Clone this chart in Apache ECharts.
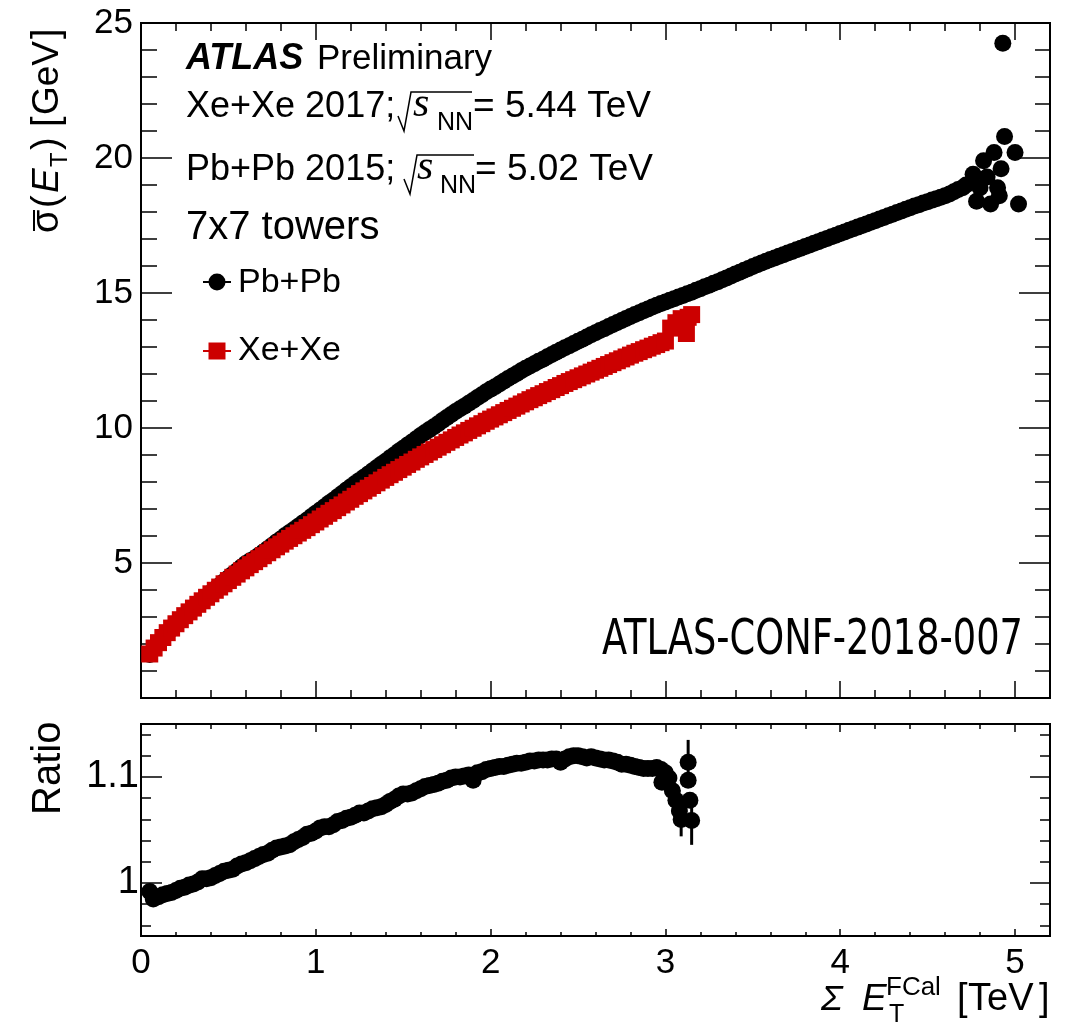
<!DOCTYPE html>
<html><head><meta charset="utf-8">
<script src="https://cdn.jsdelivr.net/npm/echarts@6/dist/echarts.min.js"></script>
<style>html,body{margin:0;padding:0;background:#fff}#c{width:1077px;height:1025px}</style>
</head><body><div id="c"></div>
<script>
// ---------------- data ----------------
// Pb+Pb 2015 : [Sum ET FCal (TeV), sigma(ET) (GeV)]
const pbData = [
 [0.05,1.61],[0.075,1.83],[0.1,2.02],[0.125,2.21],[0.15,2.39],[0.175,2.56],[0.2,2.73],[0.225,2.89],[0.25,3.04],[0.275,3.19],
 [0.3,3.34],[0.325,3.48],[0.35,3.62],[0.375,3.76],[0.4,3.9],[0.425,4.04],[0.45,4.17],[0.475,4.31],[0.5,4.44],[0.525,4.58],
 [0.55,4.71],[0.575,4.85],[0.6,4.98],[0.625,5.08],[0.65,5.17],[0.675,5.29],[0.7,5.41],[0.725,5.53],[0.75,5.65],[0.775,5.78],
 [0.8,5.89],[0.825,6.02],[0.85,6.13],[0.875,6.24],[0.9,6.36],[0.925,6.48],[0.95,6.59],[0.975,6.72],[1.0,6.84],[1.025,6.96],
 [1.05,7.08],[1.075,7.21],[1.1,7.32],[1.125,7.45],[1.15,7.57],[1.175,7.7],[1.2,7.82],[1.225,7.94],[1.25,8.06],[1.275,8.18],
 [1.3,8.3],[1.325,8.42],[1.35,8.54],[1.375,8.66],[1.4,8.77],[1.425,8.9],[1.45,9.01],[1.475,9.14],[1.5,9.25],[1.525,9.37],
 [1.55,9.48],[1.575,9.6],[1.6,9.72],[1.625,9.83],[1.65,9.94],[1.675,10.05],[1.7,10.16],[1.725,10.28],[1.75,10.39],[1.775,10.5],
 [1.8,10.61],[1.825,10.71],[1.85,10.81],[1.875,10.92],[1.9,11.02],[1.925,11.13],[1.95,11.23],[1.975,11.34],[2.0,11.44],[2.025,11.53],
 [2.05,11.63],[2.075,11.73],[2.1,11.83],[2.125,11.93],[2.15,12.02],[2.175,12.12],[2.2,12.21],[2.225,12.3],[2.25,12.38],[2.275,12.47],
 [2.3,12.55],[2.325,12.64],[2.35,12.72],[2.375,12.81],[2.4,12.89],[2.425,12.97],[2.45,13.05],[2.475,13.13],[2.5,13.21],[2.525,13.29],
 [2.55,13.37],[2.575,13.45],[2.6,13.53],[2.625,13.61],[2.65,13.68],[2.675,13.76],[2.7,13.83],[2.725,13.91],[2.75,13.98],[2.775,14.06],
 [2.8,14.13],[2.825,14.2],[2.85,14.27],[2.875,14.34],[2.9,14.41],[2.925,14.48],[2.95,14.55],[2.975,14.61],[3.0,14.67],[3.025,14.73],
 [3.05,14.79],[3.075,14.85],[3.1,14.91],[3.125,14.97],[3.15,15.03],[3.175,15.1],[3.2,15.16],[3.225,15.23],[3.25,15.29],[3.275,15.36],
 [3.3,15.42],[3.325,15.49],[3.35,15.56],[3.375,15.63],[3.4,15.7],[3.425,15.77],[3.45,15.84],[3.475,15.91],[3.5,15.98],[3.525,16.05],
 [3.55,16.11],[3.575,16.18],[3.6,16.24],[3.625,16.3],[3.65,16.36],[3.675,16.42],[3.7,16.48],[3.725,16.54],[3.75,16.6],[3.775,16.66],
 [3.8,16.72],[3.825,16.78],[3.85,16.84],[3.875,16.9],[3.9,16.96],[3.925,17.02],[3.95,17.08],[3.975,17.14],[4.0,17.2],[4.025,17.26],
 [4.05,17.32],[4.075,17.38],[4.1,17.44],[4.125,17.5],[4.15,17.56],[4.175,17.62],[4.2,17.68],[4.225,17.74],[4.25,17.8],[4.275,17.86],
 [4.3,17.92],[4.325,17.98],[4.35,18.04],[4.375,18.1],[4.4,18.16],[4.425,18.22],[4.45,18.27],[4.475,18.33],[4.5,18.38],[4.525,18.44],
 [4.55,18.49],[4.575,18.55],[4.6,18.6],[4.625,18.67],[4.65,18.75],[4.675,18.83],[4.7,18.9],
 [4.72,19.0],[4.76,19.4],[4.78,18.4],[4.8,18.9],[4.82,19.9],[4.84,19.3],[4.86,18.3],[4.88,20.2],[4.9,18.9],[4.91,18.6],
 [4.92,19.6],[4.93,24.25],[4.94,20.8],[5.0,20.2],[5.02,18.3]
];
// Xe+Xe 2017
const xeData = [
 [0.05,1.63],[0.075,1.85],[0.1,2.05],[0.125,2.24],[0.15,2.42],[0.175,2.59],[0.2,2.75],[0.225,2.9],[0.25,3.05],[0.275,3.19],
 [0.3,3.33],[0.325,3.47],[0.35,3.6],[0.375,3.73],[0.4,3.86],[0.425,3.99],[0.45,4.11],[0.475,4.23],[0.5,4.35],[0.525,4.47],
 [0.55,4.59],[0.575,4.71],[0.6,4.82],[0.625,4.94],[0.65,5.05],[0.675,5.16],[0.7,5.27],[0.725,5.38],[0.75,5.49],[0.775,5.6],
 [0.8,5.7],[0.825,5.81],[0.85,5.91],[0.875,6.01],[0.9,6.11],[0.925,6.21],[0.95,6.31],[0.975,6.42],[1.0,6.52],[1.025,6.63],
 [1.05,6.73],[1.075,6.84],[1.1,6.94],[1.125,7.05],[1.15,7.15],[1.175,7.26],[1.2,7.36],[1.225,7.47],[1.25,7.57],[1.275,7.67],
 [1.3,7.77],[1.325,7.87],[1.35,7.97],[1.375,8.07],[1.4,8.17],[1.425,8.27],[1.45,8.36],[1.475,8.46],[1.5,8.55],[1.525,8.65],
 [1.55,8.74],[1.575,8.84],[1.6,8.93],[1.625,9.02],[1.65,9.11],[1.675,9.2],[1.7,9.29],[1.725,9.38],[1.75,9.47],[1.775,9.56],
 [1.8,9.65],[1.825,9.74],[1.85,9.82],[1.875,9.91],[1.9,9.99],[1.925,10.08],[1.95,10.16],[1.975,10.25],[2.0,10.33],[2.025,10.41],
 [2.05,10.49],[2.075,10.57],[2.1,10.65],[2.125,10.73],[2.15,10.81],[2.175,10.89],[2.2,10.97],[2.225,11.05],[2.25,11.12],[2.275,11.2],
 [2.3,11.27],[2.325,11.35],[2.35,11.42],[2.375,11.5],[2.4,11.57],[2.425,11.65],[2.45,11.72],[2.475,11.79],[2.5,11.86],[2.525,11.93],
 [2.55,12.0],[2.575,12.07],[2.6,12.14],[2.625,12.21],[2.65,12.28],[2.675,12.35],[2.7,12.42],[2.725,12.49],[2.75,12.56],[2.775,12.63],
 [2.8,12.7],[2.825,12.77],[2.85,12.83],[2.875,12.9],[2.9,12.96],[2.925,13.03],[2.95,13.09],[2.975,13.16],[3.0,13.22],
 [3.03,13.7],[3.06,13.9],[3.09,14.05],[3.12,13.5],[3.13,14.1],[3.15,14.2]
];
// Ratio Pb+Pb / Xe+Xe
const ratioData = [
 [0.05,0.992],[0.07,0.985],[0.075,0.986],[0.1,0.987],[0.125,0.989],[0.15,0.99],[0.175,0.991],[0.2,0.993],[0.225,0.995],[0.25,0.996],
 [0.275,0.998],[0.3,0.999],[0.325,1.001],[0.35,1.004],[0.375,1.004],[0.4,1.005],[0.425,1.007],[0.45,1.009],[0.475,1.011],[0.5,1.012],
 [0.525,1.013],[0.55,1.016],[0.575,1.018],[0.6,1.019],[0.625,1.021],[0.65,1.023],[0.675,1.025],[0.7,1.027],[0.725,1.028],[0.75,1.031],
 [0.775,1.033],[0.8,1.034],[0.825,1.035],[0.85,1.036],[0.875,1.039],[0.9,1.041],[0.925,1.043],[0.95,1.046],[0.975,1.047],[1.0,1.049],
 [1.025,1.052],[1.05,1.053],[1.075,1.053],[1.1,1.055],[1.125,1.058],[1.15,1.059],[1.175,1.061],[1.2,1.062],[1.225,1.064],[1.25,1.066],
 [1.275,1.066],[1.3,1.068],[1.325,1.07],[1.35,1.071],[1.375,1.072],[1.4,1.074],[1.425,1.077],[1.45,1.079],[1.475,1.082],[1.5,1.084],
 [1.525,1.084],[1.55,1.085],[1.575,1.087],[1.6,1.089],[1.625,1.091],[1.65,1.092],[1.675,1.093],[1.7,1.094],[1.725,1.096],[1.75,1.097],
 [1.775,1.099],[1.8,1.1],[1.825,1.1],[1.85,1.101],[1.875,1.102],[1.9,1.097],[1.925,1.104],[1.95,1.105],[1.975,1.107],[2.0,1.108],
 [2.025,1.109],[2.05,1.11],[2.075,1.11],[2.1,1.111],[2.125,1.112],[2.15,1.113],[2.175,1.113],[2.2,1.114],[2.225,1.115],[2.25,1.115],
 [2.275,1.116],[2.3,1.116],[2.325,1.116],[2.35,1.117],[2.375,1.117],[2.4,1.114],[2.425,1.117],[2.45,1.119],[2.475,1.12],[2.5,1.12],
 [2.525,1.119],[2.55,1.118],[2.575,1.119],[2.6,1.118],[2.625,1.117],[2.65,1.116],[2.675,1.116],[2.7,1.115],[2.725,1.114],[2.75,1.112],
 [2.775,1.112],[2.8,1.111],[2.825,1.11],[2.85,1.109],[2.875,1.108],[2.9,1.108],[2.925,1.108],[2.95,1.109],[2.975,1.107],[3.0,1.104],
 [2.98,1.095],[3.02,1.099],[3.04,1.087],[3.06,1.078],[3.08,1.068],[3.09,1.06],[3.13,1.114],[3.13,1.097],[3.14,1.078],[3.15,1.059]
];
// ratio error bars [x, low, high]
const ratioErr = [[3.09,1.044,1.075],[3.13,1.095,1.135],[3.15,1.036,1.08]];

// tick positions / labels
const xMajor = [0,1,2,3,4,5];
const xMinor = [0.2,0.4,0.6,0.8,1.2,1.4,1.6,1.8,2.2,2.4,2.6,2.8,3.2,3.4,3.6,3.8,4.2,4.4,4.6,4.8];
const yMajor = [0,5,10,15,20,25];
const yLabels = [5,10,15,20,25];
const yMinor = [1,2,3,4,6,7,8,9,11,12,13,14,16,17,18,19,21,22,23,24];
const rMajor = [1.0,1.1];
const rMinor = [0.96,0.98,1.02,1.04,1.06,1.08,1.12,1.14];

// ---------------- helpers ----------------
const FF = '"Liberation Sans", Arial, Helvetica, sans-serif';
const tickStyle = {color:'#000', width:1.5};
function mkAxis(grid, pos, min, max, vals, len, label, labelVals){
  return {type:'value', gridIndex:grid, position:pos, min:min, max:max, silent:true,
    axisLine:{show:false,onZero:false}, splitLine:{show:false}, minorTick:{show:false},
    axisTick:{show:true, inside:true, length:len, customValues:vals, lineStyle:tickStyle},
    axisLabel: label ? Object.assign({show:true, customValues:labelVals||vals, color:'#000', fontFamily:FF}, label) : {show:false}};
}
function T(text, x, base, size, o){
  o = o || {};
  const font = (o.style||'normal')+' '+(o.weight||'normal')+' '+size+'px '+(o.family||FF);
  return {type:'text', x:x, y:base - 0.35*size, silent:true, z:10,
    style:{text:text, font:font, fill:o.color||'#000', align:o.align||'left', verticalAlign:'middle',
      textAlign:o.align||'left', textVerticalAlign:'middle'}};
}
const mctx = document.createElement('canvas').getContext('2d');
function tw(text, font){ mctx.font = font; return mctx.measureText(text).width; }

// ---------------- annotations ----------------
const g = [];
g.push(T('ATLAS', 186, 72, 36, {style:'italic', weight:'bold'}));
g.push(T('Preliminary', 317, 72, 35));
// Xe line
g.push(T('Xe+Xe 2017;', 186, 120, 36));
g.push({type:'polyline', silent:true, z:10, shape:{points:[[398,116],[404,131],[411,92],[472,92]]}, style:{stroke:'#000', lineWidth:1.5, fill:null}});
g.push(T('s', 413, 120, 42, {style:'italic', family:'"Liberation Serif", serif'}));
g.push(T('NN', 437, 132, 25));
g.push(T('= 5.44 TeV', 473, 120, 37));
// Pb line
g.push(T('Pb+Pb 2015;', 186, 183, 36));
g.push({type:'polyline', silent:true, z:10, shape:{points:[[404,179],[410,194],[417,155],[474,155]]}, style:{stroke:'#000', lineWidth:1.5, fill:null}});
g.push(T('s', 417, 183, 42, {style:'italic', family:'"Liberation Serif", serif'}));
g.push(T('NN', 440, 195, 25));
g.push(T('= 5.02 TeV', 475, 183, 37));
g.push(T('7x7 towers', 186, 242, 40));
// legend
g.push({type:'line', silent:true, z:10, shape:{x1:203,y1:282,x2:231,y2:282}, style:{stroke:'#000', lineWidth:2}});
g.push({type:'circle', silent:true, z:10, shape:{cx:217,cy:282,r:8.5}, style:{fill:'#000'}});
g.push(T('Pb+Pb', 238, 295, 34));
g.push({type:'line', silent:true, z:10, shape:{x1:203,y1:351,x2:231,y2:351}, style:{stroke:'#cc0000', lineWidth:2}});
g.push({type:'rect', silent:true, z:10, shape:{x:208.5,y:342.5,width:17,height:17}, style:{fill:'#cc0000'}});
g.push(T('Xe+Xe', 238, 363, 34));
// ATLAS-CONF label (condensed)
(function(){
  const fam = '"Liberation Sans Narrow", "DejaVu Sans Condensed", ' + FF;
  const font = 'normal normal 49px ' + fam;
  const w = tw('ATLAS-CONF-2018-007', font);
  const sx = 421 / w;
  g.push({type:'group', x:1023, y:658, scaleX:sx, silent:true, z:10, children:[
    T('ATLAS-CONF-2018-007', 0, 0, 49, {family:fam, align:'right'})
  ]});
})();
// y title (rotated, reads bottom-to-top)
g.push({type:'group', x:61, y:233, rotation:Math.PI/2, silent:true, z:10, children:[
  T('\u03c3', 0, 0, 38),
  {type:'line', silent:true, shape:{x1:2,y1:-27,x2:23,y2:-27}, style:{stroke:'#000', lineWidth:2}},
  T('(', 25, 0, 38),
  T('E', 40, 0, 37, {style:'italic'}),
  T('T', 66, 8, 24),
  T(')', 83, 0, 38),
  T('[', 106, 0, 38),
  T('GeV', 118, 0, 37),
  T(']', 194, 0, 38)
]});
// Ratio title
g.push({type:'group', x:63, y:815, rotation:Math.PI/2, silent:true, z:10, children:[
  T('Ratio', 0, 0, 40)
]});
// x title
g.push(T('\u03a3', 821, 1013, 36, {style:'italic'}));
g.push(T('E', 862, 1013, 37, {style:'italic'}));
g.push(T('T', 889, 1024, 25));
g.push(T('FCal', 886, 997, 26));
g.push(T('[', 957, 1013, 38));
g.push(T('TeV', 968, 1013, 38));
g.push(T(']', 1039, 1013, 38));

// ---------------- option ----------------
const option = {
  animation:false,
  backgroundColor:'#fff',
  grid:[
    {left:141, top:23, width:909, height:675, show:true, borderColor:'#000', borderWidth:2, backgroundColor:'transparent', z:1},
    {left:141, top:724, width:909, height:212, show:true, borderColor:'#000', borderWidth:2, backgroundColor:'transparent', z:1}
  ],
  xAxis:[
    mkAxis(0,'bottom',0,5.2,xMajor,17),
    mkAxis(0,'bottom',0,5.2,xMinor,8),
    mkAxis(0,'top',0,5.2,xMajor,17),
    mkAxis(0,'top',0,5.2,xMinor,8),
    mkAxis(1,'bottom',0,5.2,xMajor,7,{fontSize:35, margin:10}),
    mkAxis(1,'bottom',0,5.2,xMinor,4),
    mkAxis(1,'top',0,5.2,xMajor,8),
    mkAxis(1,'top',0,5.2,xMinor,5)
  ],
  yAxis:[
    mkAxis(0,'left',0,25,yMajor,31,{fontSize:35, margin:8}, yLabels),
    mkAxis(0,'left',0,25,yMinor,16),
    mkAxis(0,'right',0,25,yMajor,31),
    mkAxis(0,'right',0,25,yMinor,15),
    mkAxis(1,'left',0.95,1.15,rMajor,21,{fontSize:38, margin:2}),
    mkAxis(1,'left',0.95,1.15,rMinor,10),
    mkAxis(1,'right',0.95,1.15,rMajor,20),
    mkAxis(1,'right',0.95,1.15,rMinor,10)
  ],
  series:[
    {type:'scatter', xAxisIndex:0, yAxisIndex:0, silent:true, z:3,
     data: pbData, symbol:'circle', symbolSize:17,
     itemStyle:{color:'#000', opacity:1}},
    {type:'scatter', xAxisIndex:0, yAxisIndex:0, silent:true, z:4,
     data: xeData, symbol:'rect', symbolSize:17,
     itemStyle:{color:'#cc0000', opacity:1}},
    {type:'custom', xAxisIndex:4, yAxisIndex:4, silent:true, z:3,
     data: ratioErr, encode:{x:0, y:[1,2]},
     renderItem:function(params, api){
       const a = api.coord([api.value(0), api.value(1)]);
       const b = api.coord([api.value(0), api.value(2)]);
       return {type:'line', shape:{x1:a[0],y1:a[1],x2:b[0],y2:b[1]}, style:{stroke:'#000', lineWidth:3}};
     }},
    {type:'scatter', xAxisIndex:4, yAxisIndex:4, silent:true, z:4,
     data: ratioData, symbol:'circle', symbolSize:17,
     itemStyle:{color:'#000', opacity:1}}
  ],
  graphic: g
};
const chart = echarts.init(document.getElementById('c'), null, {renderer:'canvas'});
chart.setOption(option);
</script>
</body></html>
